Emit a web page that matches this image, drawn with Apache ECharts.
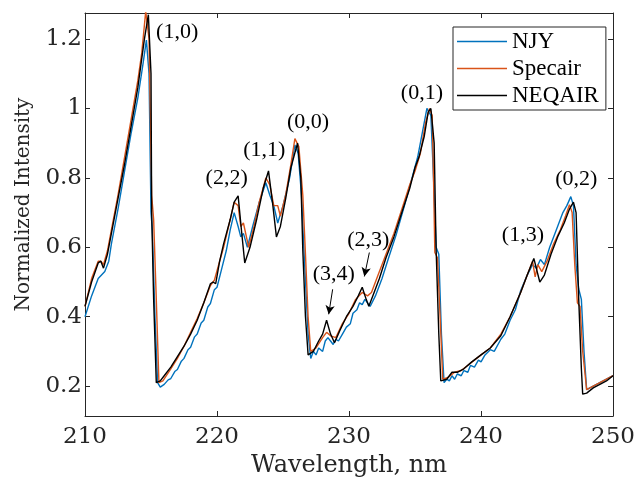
<!DOCTYPE html>
<html>
<head>
<meta charset="utf-8">
<script src="https://cdn.jsdelivr.net/npm/echarts@6/dist/echarts.min.js"></script>
<style>html,body{margin:0;padding:0;background:#fff}#c{width:638px;height:483px}</style>
</head>
<body>
<div id="c"></div>
<script>
// ---- data ----
const xTicks = [210, 220, 230, 240, 250];
const yTicks = [0.2, 0.4, 0.6, 0.8, 1.0, 1.2];
const seriesNames = ['NJY', 'Specair', 'NEQAIR'];

const njyWl = [210.0,210.5,211.0,211.5,211.8,212.0,212.5,213.0,213.5,214.0,214.4,214.65,214.85,215.0,215.1,215.3,215.5,215.7,
  216.0,216.3,216.5,216.8,217.0,217.3,217.5,217.8,218.0,218.3,218.5,218.8,219.0,219.3,219.5,219.8,220.0,220.3,220.7,221.0,221.3,221.6,221.8,222.0,222.3,222.7,
  223.2,223.7,224.0,224.3,224.6,225.0,225.5,225.9,226.15,226.4,226.6,226.9,227.1,227.3,227.5,227.7,228.0,228.2,228.4,228.6,228.8,229.0,229.2,229.5,229.8,230.1,230.3,230.6,230.8,231.0,231.2,231.4,231.6,232.0,
  232.5,233.0,233.6,234.2,234.7,235.2,235.6,235.9,236.2,236.4,236.6,236.8,237.0,237.2,237.4,237.6,237.8,238.0,238.2,238.5,238.7,239.0,239.2,239.5,239.8,240.0,240.3,240.7,241.0,241.5,241.8,242.2,242.6,243.0,
  243.5,243.9,244.2,244.5,244.8,245.2,245.7,246.2,246.5,246.8,247.0,247.2,247.4,247.6,247.8,248.0,248.5,249.0,249.5,250.0];
const njyVal = [0.40,0.46,0.51,0.53,0.56,0.61,0.71,0.82,0.93,1.03,1.13,1.197,1.10,0.70,0.65,0.40,0.21,0.197,
  0.205,0.218,0.222,0.242,0.248,0.272,0.28,0.305,0.312,0.342,0.35,0.382,0.39,0.428,0.438,0.478,0.485,0.53,0.59,0.65,0.70,0.66,0.63,0.64,0.60,0.66,
  0.73,0.786,0.75,0.72,0.67,0.72,0.80,0.895,0.87,0.75,0.58,0.35,0.28,0.30,0.29,0.31,0.30,0.33,0.34,0.33,0.32,0.335,0.33,0.35,0.37,0.38,0.41,0.42,0.44,0.435,0.45,0.44,0.43,0.46,
  0.51,0.57,0.64,0.72,0.79,0.86,0.94,1.00,0.98,0.80,0.60,0.58,0.35,0.21,0.22,0.215,0.23,0.22,0.235,0.23,0.245,0.24,0.26,0.255,0.275,0.27,0.29,0.305,0.30,0.335,0.35,0.39,0.42,0.475,
  0.52,0.55,0.54,0.565,0.55,0.60,0.65,0.70,0.72,0.746,0.72,0.55,0.48,0.45,0.30,0.19,0.20,0.21,0.22,0.23];

const specWl = [210.0,210.5,211.0,211.2,211.4,211.7,212.0,212.5,213.0,213.5,214.0,214.3,214.6,214.85,215.05,215.2,215.4,215.6,215.9,
  216.5,217.0,217.5,218.0,218.5,219.0,219.5,219.8,220.2,220.5,221.0,221.3,221.6,221.8,222.0,222.4,222.8,223.2,223.7,224.0,224.3,224.6,224.8,
  225.2,225.6,225.9,226.2,226.5,226.7,226.9,227.1,227.5,228.0,228.3,228.6,229.0,229.5,230.0,230.5,231.0,231.4,231.7,232.2,232.8,233.4,234.0,234.6,235.0,235.4,235.8,236.1,236.3,236.4,236.5,236.7,236.9,237.1,
  237.5,238.0,238.5,239.0,239.5,240.0,240.7,241.5,242.2,243.0,243.5,243.9,244.1,244.3,244.6,245.0,245.5,246.0,246.4,246.7,246.9,247.1,247.3,247.5,247.7,248.0,248.5,249.0,249.5,250.0];
const specVal = [0.43,0.51,0.56,0.56,0.55,0.59,0.65,0.75,0.86,0.97,1.08,1.16,1.28,1.20,0.75,0.68,0.45,0.21,0.215,
  0.25,0.28,0.315,0.355,0.395,0.44,0.49,0.505,0.56,0.60,0.68,0.73,0.72,0.66,0.67,0.60,0.66,0.73,0.80,0.78,0.72,0.72,0.69,
  0.75,0.84,0.913,0.89,0.75,0.58,0.40,0.30,0.31,0.34,0.355,0.345,0.34,0.38,0.41,0.45,0.47,0.46,0.47,0.52,0.58,0.64,0.71,0.78,0.82,0.87,0.96,1.00,0.98,0.80,0.585,0.57,0.40,0.22,
  0.225,0.24,0.245,0.26,0.275,0.29,0.31,0.35,0.40,0.47,0.52,0.56,0.515,0.55,0.53,0.56,0.61,0.65,0.69,0.723,0.70,0.55,0.44,0.43,0.30,0.19,0.20,0.21,0.22,0.23];

const neqWl = [210.0,210.5,211.0,211.2,211.4,211.7,212.0,212.5,213.0,213.5,214.0,214.5,214.8,215.0,215.05,215.2,215.4,215.7,
  216.0,216.5,217.0,217.5,218.0,218.5,219.0,219.5,219.7,219.9,220.2,220.5,221.0,221.3,221.6,221.85,222.1,222.5,223.0,223.5,223.9,224.2,224.5,224.8,
  225.2,225.6,226.1,226.35,226.5,226.7,226.9,227.3,227.7,228.0,228.3,228.6,228.9,229.3,229.8,230.3,230.7,231.0,231.3,231.5,231.8,232.3,232.8,233.4,234.0,234.6,235.0,235.3,235.7,236.0,236.2,236.45,236.6,236.8,236.95,
  237.4,237.8,238.2,238.7,239.3,240.0,240.7,241.5,242.2,243.0,243.5,244.0,244.45,244.8,245.3,245.8,246.3,246.7,247.0,247.2,247.4,247.6,247.7,248.0,248.5,249.0,249.5,250.0];
const neqVal = [0.43,0.50,0.555,0.56,0.54,0.58,0.64,0.74,0.84,0.95,1.06,1.20,1.27,1.10,0.70,0.45,0.21,0.215,
  0.23,0.255,0.285,0.315,0.35,0.39,0.44,0.495,0.50,0.495,0.56,0.61,0.68,0.73,0.748,0.65,0.555,0.60,0.68,0.77,0.82,0.73,0.63,0.66,
  0.74,0.83,0.90,0.80,0.59,0.40,0.29,0.30,0.33,0.35,0.39,0.35,0.325,0.36,0.40,0.43,0.46,0.485,0.45,0.43,0.46,0.51,0.57,0.63,0.70,0.77,0.83,0.86,0.92,0.99,1.00,0.90,0.59,0.35,0.215,
  0.22,0.24,0.24,0.25,0.27,0.29,0.31,0.345,0.40,0.47,0.52,0.568,0.50,0.52,0.58,0.63,0.67,0.71,0.73,0.70,0.45,0.25,0.177,0.18,0.195,0.205,0.215,0.23];

// band annotations: label, wavelength, intensity
const bandLabels = ['(1,0)','(2,2)','(1,1)','(0,0)','(3,4)','(2,3)','(0,1)','(1,3)','(0,2)'];
const bandLabelWl = [216.98,220.73,223.58,226.89,228.84,231.46,235.52,243.17,247.22];
const bandLabelVal = [1.22,0.80,0.881,0.961,0.522,0.62,1.045,0.634,0.795];
// arrows: start/end wavelength & intensity
const arrowFromWl = [228.76,231.54];
const arrowFromVal = [0.479,0.585];
const arrowToWl = [228.46,231.16];
const arrowToVal = [0.407,0.516];

const colors = ['#0072BD','#D95319','#000000'];
const zip = (a,b) => a.map((v,i)=>[v,b[i]]);

const chart = echarts.init(document.getElementById('c'), null, {renderer:'canvas'});
const axisColor = '#262626';
const tickFont = {fontFamily:'DejaVu Serif', fontSize:23, color:'#262626'};

const markPointData = bandLabels.map((t,i)=>({
  coord:[bandLabelWl[i], bandLabelVal[i]], value:t,
  label:{show:true, formatter:t, position:'inside', fontFamily:'Liberation Serif', fontSize:22, color:'#000'}
}));
const markLineData = arrowFromWl.map((w,i)=>[
  {coord:[w, arrowFromVal[i]], symbol:'none'},
  {coord:[arrowToWl[i], arrowToVal[i]], symbol:'arrow', symbolSize:[7,9]}
]);

const series = [
  {name:'NJY', type:'line', data:zip(njyWl,njyVal)},
  {name:'Specair', type:'line', data:zip(specWl,specVal)},
  {name:'NEQAIR', type:'line', data:zip(neqWl,neqVal),
    markPoint:{symbol:'circle', symbolSize:1, itemStyle:{color:'rgba(0,0,0,0)'}, silent:true, data:markPointData},
    markLine:{silent:true, symbol:['none','arrow'], label:{show:false}, lineStyle:{color:'#000', width:1, type:'solid'}, data:markLineData, animation:false}
  }
].map((s,i)=>Object.assign({
  showSymbol:false, symbol:'none', color:colors[i], lineStyle:{width:1.4, color:colors[i]}, clip:true, animation:false
}, s));

chart.setOption({
  animation:false,
  backgroundColor:'#fff',
  grid:{left:85, right:20, top:13, bottom:66},
  legend:{
    data:seriesNames, orient:'vertical', left:453, top:27,
    padding:[3,7,3,4], itemGap:4, itemWidth:50, itemHeight:1.5, icon:'rect',
    borderColor:axisColor, borderWidth:1, backgroundColor:'#fff',
    textStyle:{fontFamily:'Liberation Serif', fontSize:23, color:'#000', lineHeight:23}
  },
  xAxis:[
    {type:'value', min:xTicks[0], max:xTicks[xTicks.length-1], interval:10, position:'bottom',
      axisLine:{show:true, lineStyle:{color:axisColor, width:1}},
      axisTick:{show:true, inside:true, length:5, lineStyle:{color:axisColor}},
      axisLabel:{show:true, margin:10, ...tickFont},
      splitLine:{show:false},
      name:'Wavelength, nm', nameLocation:'middle', nameGap:38,
      nameTextStyle:{fontFamily:'DejaVu Serif', fontSize:24, color:'#262626'}},
    {type:'value', min:xTicks[0], max:xTicks[xTicks.length-1], interval:10, position:'top',
      axisLine:{show:true, lineStyle:{color:axisColor, width:1}},
      axisTick:{show:true, inside:true, length:5, lineStyle:{color:axisColor}},
      axisLabel:{show:false}, splitLine:{show:false}}
  ],
  yAxis:[
    {type:'value', min:0.114, max:1.275, position:'left',
      axisLine:{show:true, lineStyle:{color:axisColor, width:1}},
      axisTick:{show:true, inside:true, length:5, lineStyle:{color:axisColor}, customValues:yTicks},
      axisLabel:{show:true, margin:3, customValues:yTicks, formatter:v=>String(Math.round(v*10)/10), ...tickFont},
      splitLine:{show:false},
      name:'Normalized Intensity', nameLocation:'middle', nameGap:51,
      nameTextStyle:{fontFamily:'DejaVu Serif', fontSize:20, color:'#262626', padding:[0,0,0,20]}},
    {type:'value', min:0.114, max:1.275, position:'right',
      axisLine:{show:true, lineStyle:{color:axisColor, width:1}},
      axisTick:{show:true, inside:true, length:5, lineStyle:{color:axisColor}, customValues:yTicks},
      axisLabel:{show:false}, splitLine:{show:false}}
  ],
  series:series
});
</script>
</body>
</html>
